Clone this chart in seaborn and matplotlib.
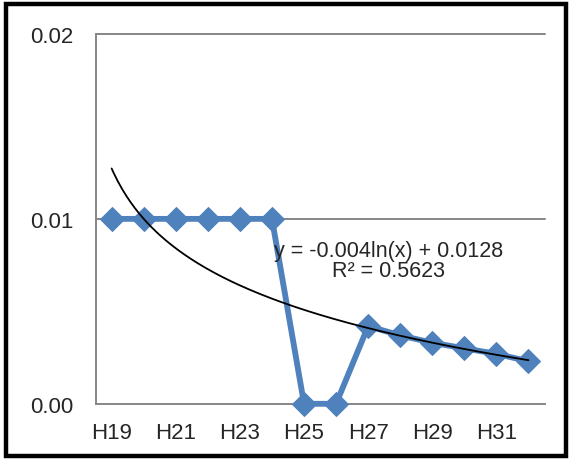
import numpy as np
import pandas as pd
import matplotlib
matplotlib.use("Agg")
import matplotlib.pyplot as plt
import seaborn as sns
from matplotlib.patches import Rectangle

categories = ["H19", "H20", "H21", "H22", "H23", "H24", "H25",
              "H26", "H27", "H28", "H29", "H30", "H31", "H32"]
values = [0.01, 0.01, 0.01, 0.01, 0.01, 0.01, 0.0,
          0.0, 0.0042, 0.0037, 0.0033, 0.0030, 0.0027, 0.0023]
trend_label = "y = -0.004ln(x) + 0.0128\nR\u00b2 = 0.5623"

sns.set_style("white")
plt.rcParams["font.family"] = ["Liberation Sans", "DejaVu Sans"]

df = pd.DataFrame({"pos": np.arange(len(categories)), "cat": categories, "val": values})

fig = plt.figure(figsize=(5.69, 4.60), dpi=100)
ax = fig.add_axes([0.168, 0.120, 0.789, 0.804])

grey = "#868686"
blue = "#4F81BD"

# log trendline fitted on x = 1..n
xn = df["pos"] + 1
coef = np.polyfit(np.log(xn), df["val"], 1)
xs = np.linspace(1, len(categories), 200)
ys = coef[0] * np.log(xs) + coef[1]

for yv in [0.01, 0.02]:
    ax.axhline(yv, color=grey, lw=1.4, zorder=0)

sns.lineplot(data=df, x="pos", y="val", ax=ax, color=blue, lw=4.2,
             marker="D", markersize=12.5, markeredgecolor=blue, zorder=3)
for ln in ax.lines:
    ln.set_clip_on(False)
ax.plot(xs - 1, ys, color="black", lw=1.3, zorder=4)

ax.text(8.63, 0.00773, trend_label, ha="center", va="center", fontsize=15.5,
        linespacing=0.95, zorder=5)

ax.set_xlim(-0.5, 13.5)
ax.set_ylim(0, 0.02)
ax.set_yticks([0, 0.01, 0.02])
ax.set_yticklabels(["0.00", "0.01", "0.02"])
ax.set_xticks(np.arange(-0.5, 14, 1))
ax.set_xticklabels([])
ax.set_xticks(np.arange(0, 14, 2), minor=True)
ax.set_xticklabels(categories[::2], minor=True)
ax.tick_params(axis="x", which="major", length=6, width=1.4, color=grey, direction="out")
ax.tick_params(axis="x", which="minor", length=0, labelsize=16, pad=13)
ax.tick_params(axis="y", length=6, width=1.4, color=grey, direction="out", labelsize=16, pad=10)
ax.set_xlabel("")
ax.set_ylabel("")

for s in ["top", "right"]:
    ax.spines[s].set_visible(False)
for s in ["left", "bottom"]:
    ax.spines[s].set_color(grey)
    ax.spines[s].set_linewidth(1.4)
    ax.spines[s].set_zorder(1)

fig.patches.append(Rectangle((6 / 569, 3 / 460), 560 / 569, 452 / 460,
                             transform=fig.transFigure, fill=False,
                             edgecolor="black", lw=3.2))

fig.savefig("out.png", dpi=100)
